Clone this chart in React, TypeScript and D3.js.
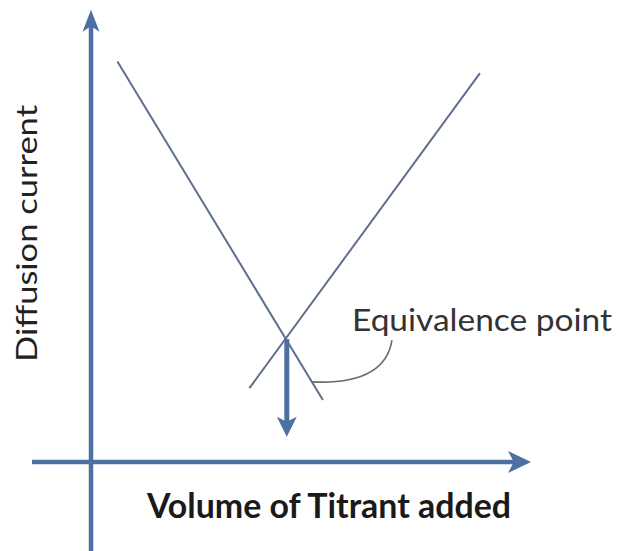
import React from 'react';
import * as d3 from 'd3';

// values, in arbitrary "volume" / "current" units
const descendingLine = [
  { v: 6, i: 89 },
  { v: 52.7, i: 13.8 },
];
const ascendingLine = [
  { v: 36, i: 16.4 },
  { v: 88.4, i: 86.4 },
];
const equivalencePoint = { v: 44.5, i: 27.3 };
const equivalenceArrowEnd = 5.6;
const leaderCurve = [
  { v: 50.2, i: 17.8 },
  { v: 66.8, i: 17.1 },
  { v: 68.4, i: 27.1 },
];
const xAxisExtent = [-13.4, 100];
const yAxisExtent = [-20, 100.5];
const xTitle = 'Volume of Titrant added';
const yTitle = 'Diffusion current';
const annotation = 'Equivalence point';

const width = 621;
const height = 551;
const origin = { x: 91, y: 462 };

const AXIS_COLOR = '#4d70a2';
const LINE_COLOR = '#5f6f8c';

// arrow head with a small notch, tip at (x, y) pointing along angle (radians)
function arrowHead(x: number, y: number, angle: number, len: number, w: number) {
  const ux = Math.cos(angle);
  const uy = Math.sin(angle);
  const px = -uy;
  const py = ux;
  const bx = x - ux * len;
  const by = y - uy * len;
  const nx = x - ux * len * 0.75;
  const ny = y - uy * len * 0.75;
  return `M${x},${y}L${bx + px * w / 2},${by + py * w / 2}L${nx},${ny}L${bx - px * w / 2},${by - py * w / 2}Z`;
}

export default function App() {
  const x = d3.scaleLinear().domain([0, 100]).range([origin.x, origin.x + 440]);
  const y = d3.scaleLinear().domain([0, 100]).range([origin.y, origin.y - 450]);

  const line = d3
    .line<{ v: number; i: number }>()
    .x((d) => x(d.v))
    .y((d) => y(d.i));

  const curve = d3
    .path();
  curve.moveTo(x(leaderCurve[0].v), y(leaderCurve[0].i));
  curve.quadraticCurveTo(
    x(leaderCurve[1].v),
    y(leaderCurve[1].i),
    x(leaderCurve[2].v),
    y(leaderCurve[2].i)
  );

  const xEnd = x(xAxisExtent[1]);
  const yEnd = y(yAxisExtent[1]);
  const eqX = x(equivalencePoint.v);
  const eqTip = y(equivalenceArrowEnd);

  return (
    <svg
      width={width}
      height={height}
      style={{ position: 'absolute', left: 0, top: 0, background: '#fff' }}
    >
      {/* axes */}
      <line x1={x(xAxisExtent[0])} y1={y(0)} x2={xEnd - 14} y2={y(0)} stroke={AXIS_COLOR} strokeWidth={4.5} />
      <path d={arrowHead(xEnd, y(0), 0, 23, 22)} fill={AXIS_COLOR} />
      <line x1={x(0)} y1={y(yAxisExtent[0])} x2={x(0)} y2={yEnd + 14} stroke={AXIS_COLOR} strokeWidth={4.5} />
      <path d={arrowHead(x(0), yEnd, -Math.PI / 2, 22, 17)} fill={AXIS_COLOR} />

      {/* titration branches */}
      <path d={line(descendingLine) || ''} fill="none" stroke={LINE_COLOR} strokeWidth={2} />
      <path d={line(ascendingLine) || ''} fill="none" stroke={LINE_COLOR} strokeWidth={2} />

      {/* equivalence arrow */}
      <line x1={eqX} y1={y(equivalencePoint.i)} x2={eqX} y2={eqTip - 14} stroke={AXIS_COLOR} strokeWidth={5} />
      <path d={arrowHead(eqX, eqTip, Math.PI / 2, 20, 20)} fill={AXIS_COLOR} />

      {/* annotation leader */}
      <path d={curve.toString()} fill="none" stroke="#6b6b6b" strokeWidth={1.6} />
      <text
        x={352}
        y={331}
        fontFamily="Lato, 'Open Sans', sans-serif"
        fontSize={30}
        fill="#333"
        textLength={260}
        lengthAdjust="spacingAndGlyphs"
      >
        {annotation}
      </text>

      <text
        x={147}
        y={518}
        fontFamily="Lato, 'Open Sans', sans-serif"
        fontWeight="bold"
        fontSize={34}
        fill="#1a1a1a"
        textLength={364}
        lengthAdjust="spacingAndGlyphs"
      >
        {xTitle}
      </text>
      <text
        transform="translate(37,362) rotate(-90)"
        fontFamily="Lato, 'Open Sans', sans-serif"
        fontSize={28}
        fill="#222"
        textLength={257}
        lengthAdjust="spacingAndGlyphs"
      >
        {yTitle}
      </text>
    </svg>
  );
}
